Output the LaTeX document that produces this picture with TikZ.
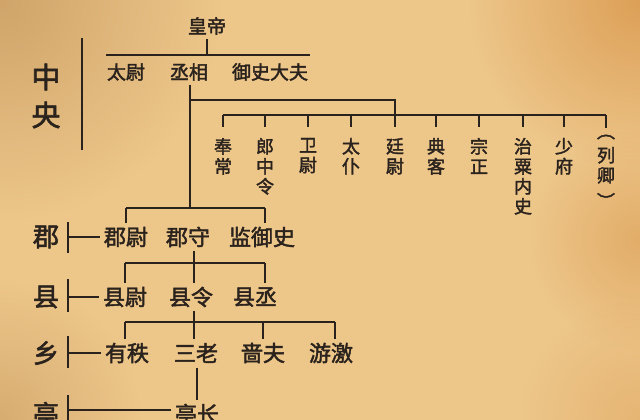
\documentclass[tikz,border=0pt]{standalone}
\usepackage{fontspec}
\usetikzlibrary{fadings}
\newfontfamily\cjk[FakeBold=2]{Noto Sans CJK SC}
\definecolor{paper}{HTML}{EDC68A}
\definecolor{paperdark}{HTML}{C99C62}
\definecolor{paperorange}{HTML}{DB9C52}
\definecolor{ink}{HTML}{2A221C}
\tikzfading[name=softblob, inner color=transparent!0, outer color=transparent!100]
\begin{document}
\begin{tikzpicture}[x=1pt,y=-1pt,
  txt/.style={text=ink, inner sep=0pt, outer sep=4pt},
  toptxt/.style={txt, font=\cjk\fontsize{19}{21}\selectfont},
  bigtxt/.style={txt, font=\cjk\fontsize{29}{31}\selectfont},
  lvltxt/.style={txt, font=\cjk\fontsize{26}{28}\selectfont},
  rowtxt/.style={txt, font=\cjk\fontsize{22}{24}\selectfont},
  offtxt/.style={txt, outer sep=0pt, anchor=north, align=center, font=\cjk\fontsize{18}{20}\selectfont},
  ln/.style={draw=ink, line width=1.4pt},
  mid/.style={draw=ink, line width=2.2pt},
  heavy/.style={draw=ink, line width=2.8pt},
  blot/.style={path fading=softblob}]
\useasboundingbox (0,0) rectangle (640,420);
\clip (0,0) rectangle (640,420);
% parchment background
\fill[paper] (0,0) rectangle (640,420);
\fill[paperdark, blot, opacity=0.8] (0,0) circle (220);
\fill[paperorange, blot, opacity=0.9] (640,0) circle (170);
\fill[paperorange, blot, opacity=0.6] (640,240) circle (110);
\fill[paperdark, blot, opacity=0.6] (0,420) circle (140);
\fill[paperorange, blot, opacity=0.4] (640,420) circle (120);

% central government
\node[toptxt] (emp) at (207,26) {皇帝};
\node[toptxt] (tw) at (126,72) {太尉};
\node[toptxt] (cx) at (189,72) {丞相};
\node[toptxt] (ys) at (270,72) {御史大夫};
\node[bigtxt] (zh) at (46,77) {中};
\node[bigtxt] (yg) at (46,115) {央};
\coordinate (cbT) at (82,38);
\coordinate (cbB) at (82,150);
\draw[mid] (cbT) -- (cbB);
\coordinate (b0L) at (106,55);
\coordinate (b0R) at (310,55);
\draw[mid] (b0L) -- (b0R);
\draw[ln] (emp) -- (emp |- b0L);

% nine ministers
\node[offtxt] (o1) at (223,138) {奉\\常};
\node[offtxt] (o2) at (265,138) {郎\\中\\令};
\node[offtxt] (o3) at (308,138) {卫\\尉};
\node[offtxt] (o4) at (351,138) {太\\仆};
\node[offtxt] (o5) at (395,138) {廷\\尉};
\node[offtxt] (o6) at (436,138) {典\\客};
\node[offtxt] (o7) at (479,138) {宗\\正};
\node[offtxt] (o8) at (523,138) {治\\粟\\内\\史};
\node[offtxt] (o9) at (564,138) {少\\府};
\node[offtxt] (o10) at (606,127) {\vphantom{列}\raisebox{4pt}{︵}\\列\\卿\\\vphantom{列}\raisebox{-6pt}{︶}};
\coordinate (oL) at (223,115);
\coordinate (oR) at (606,115);
\draw[ln] (oL) -- (oR);
\foreach \n in {o1,o2,o3,o4,o5,o6,o7,o8,o9}{
  \draw[ln] (\n.north |- oL) -- ++(0,12);
}
\draw[ln] (o10.north |- oL) -- ++(0,13);
\coordinate (t1) at (190,100);
\draw[ln] (t1) -- (t1 -| o5) -- (o5.north |- oL);

% commandery
\node[rowtxt] (zw) at (126,237) {郡尉};
\node[rowtxt] (zs) at (188,237) {郡守};
\node[rowtxt] (jy) at (262,237) {监御史};
\coordinate (jz) at (190,208);
\draw[ln] (t1 |- cx.south) -- (jz);
\coordinate (jzL) at (126,208);
\coordinate (jzR) at (265,208);
\draw[heavy] (jzL) -- (jzR);
\draw[ln] (jzL) -- (zw);
\draw[ln] (jzR) -- (jzR |- jy.north);
\node[lvltxt] (Lj) at (46,237) {郡};
\coordinate (Lj1) at (68,222);
\coordinate (Lj2) at (68,253);
\draw[ln] (Lj1) -- (Lj2);
\draw[ln] (Lj1 |- Lj) -- (zw);

% county
\node[rowtxt] (xw) at (125,297) {县尉};
\node[rowtxt] (xl) at (191,297) {县令};
\node[rowtxt] (xc) at (255,297) {县丞};
\coordinate (jx) at (194,263);
\coordinate (jxL) at (125,263);
\coordinate (jxR) at (265,263);
\draw[heavy] (jxL) -- (jxR);
\draw[ln] (jx |- zs.south) -- (jx |- xl.north);
\draw[ln] (jxL) -- (xw);
\draw[ln] (jxR) -- (jxR |- xc.north);
\node[lvltxt] (Lx) at (46,297) {县};
\coordinate (Lx1) at (68,279);
\coordinate (Lx2) at (68,312);
\draw[ln] (Lx1) -- (Lx2);
\draw[ln] (Lx1 |- Lx) -- (xw);

% township
\node[rowtxt] (yz) at (127,353) {有秩};
\node[rowtxt] (sl) at (196,353) {三老};
\node[rowtxt] (sf) at (263,353) {啬夫};
\node[rowtxt] (yj) at (331,353) {游激};
\coordinate (jyL) at (125,322);
\coordinate (jyR) at (335,322);
\coordinate (jyM) at (263,322);
\draw[ln] (jyL) -- (jyR);
\draw[ln] (jx |- xl.south) -- (jx |- sl.north);
\draw[ln] (jyL) -- (jyL |- yz.north);
\draw[ln] (jyM) -- (sf);
\draw[ln] (jyR) -- (jyR |- yj.north);
\node[lvltxt] (Ly) at (46,353) {乡};
\coordinate (Ly1) at (68,336);
\coordinate (Ly2) at (68,368);
\draw[ln] (Ly1) -- (Ly2);
\draw[ln] (Ly1 |- Ly) -- (yz);

% pavilion
\node[rowtxt] (tz) at (197,414) {亭长};
\node[lvltxt] (Lt) at (46,414) {亭};
\coordinate (Lt1) at (68,395);
\coordinate (Lt2) at (68,430);
\coordinate (tj) at (197,368);
\draw[ln] (Lt1) -- (Lt2);
\draw[ln] (tj) -- (tz);
\coordinate (th) at (68,410);
\draw[ln] (th) -- (th -| tz.west);
\end{tikzpicture}
\end{document}
